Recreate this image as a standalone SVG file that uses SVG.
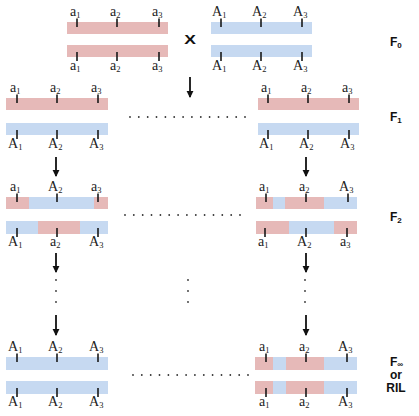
<svg xmlns="http://www.w3.org/2000/svg" width="419" height="416" viewBox="0 0 419 416">
<defs>
<style>
.p{fill:#e6b9b8}
.b{fill:#c6d9f1}
.t{stroke:#1a1a1a;stroke-width:1.6}
.l{font-family:"Liberation Serif","DejaVu Serif",serif;font-size:14px;fill:#222}
.s{font-size:8.5px}
.g{font-family:"Liberation Sans",Arial,sans-serif;font-weight:bold;font-size:12px;fill:#111}
.gs{font-size:8px}
.a{stroke:#111;stroke-width:1.8;fill:none}
.d{fill:#333}
</style>
<marker id="ah" viewBox="0 0 8 8" refX="7" refY="4" markerWidth="4" markerHeight="4" markerUnits="strokeWidth" orient="auto">
<path d="M0,0 L8,4 L0,8 Z" fill="#111"/>
</marker>
</defs>
<rect width="419" height="416" fill="#fff"/>

<!-- F0 left parent -->
<g id="f0-parent-a">
<rect class="p" x="67" y="22" width="101" height="12"/>
<rect class="p" x="67" y="45" width="101" height="12"/>
<path class="t" d="M77,18.5V27M117,18.5V27M159,18.5V27M77,52V61M117,52V61M159,52V61"/>
<text class="l" x="70" y="16">a<tspan class="s" dy="1.5">1</tspan></text>
<text class="l" x="110" y="16">a<tspan class="s" dy="1.5">2</tspan></text>
<text class="l" x="152" y="16">a<tspan class="s" dy="1.5">3</tspan></text>
<text class="l" x="70" y="70">a<tspan class="s" dy="1.5">1</tspan></text>
<text class="l" x="110" y="70">a<tspan class="s" dy="1.5">2</tspan></text>
<text class="l" x="152" y="70">a<tspan class="s" dy="1.5">3</tspan></text>
</g>

<text class="g" transform="translate(190,44) scale(1.4,1)" text-anchor="middle" style="font-size:12.5px">X</text>

<!-- F0 right parent -->
<g id="f0-parent-b">
<rect class="b" x="211" y="22" width="101" height="12"/>
<rect class="b" x="211" y="45" width="101" height="12"/>
<path class="t" d="M221,18.5V27M261,18.5V27M302,18.5V27M221,52V61M261,52V61M302,52V61"/>
<text class="l" x="212" y="16">A<tspan class="s" dy="1.5">1</tspan></text>
<text class="l" x="252" y="16">A<tspan class="s" dy="1.5">2</tspan></text>
<text class="l" x="293" y="16">A<tspan class="s" dy="1.5">3</tspan></text>
<text class="l" x="212" y="70">A<tspan class="s" dy="1.5">1</tspan></text>
<text class="l" x="252" y="70">A<tspan class="s" dy="1.5">2</tspan></text>
<text class="l" x="293" y="70">A<tspan class="s" dy="1.5">3</tspan></text>
</g>

<!-- F1 left -->
<g id="f1-left">
<rect class="p" x="6" y="98" width="102" height="12"/>
<rect class="b" x="6" y="123" width="102" height="12"/>
<path class="t" d="M17,94.5V103M57,94.5V103M98,94.5V103M17,130V139M57,130V139M98,130V139"/>
<text class="l" x="10" y="92">a<tspan class="s" dy="1.5">1</tspan></text>
<text class="l" x="50" y="92">a<tspan class="s" dy="1.5">2</tspan></text>
<text class="l" x="91" y="92">a<tspan class="s" dy="1.5">3</tspan></text>
<text class="l" x="8" y="148">A<tspan class="s" dy="1.5">1</tspan></text>
<text class="l" x="48" y="148">A<tspan class="s" dy="1.5">2</tspan></text>
<text class="l" x="89" y="148">A<tspan class="s" dy="1.5">3</tspan></text>
</g>

<!-- F1 right -->
<g id="f1-right">
<rect class="p" x="258" y="98" width="101" height="12"/>
<rect class="b" x="258" y="123" width="101" height="12"/>
<path class="t" d="M268,94.5V103M308,94.5V103M349,94.5V103M268,130V139M308,130V139M349,130V139"/>
<text class="l" x="261" y="92">a<tspan class="s" dy="1.5">1</tspan></text>
<text class="l" x="301" y="92">a<tspan class="s" dy="1.5">2</tspan></text>
<text class="l" x="342" y="92">a<tspan class="s" dy="1.5">3</tspan></text>
<text class="l" x="259" y="148">A<tspan class="s" dy="1.5">1</tspan></text>
<text class="l" x="299" y="148">A<tspan class="s" dy="1.5">2</tspan></text>
<text class="l" x="340" y="148">A<tspan class="s" dy="1.5">3</tspan></text>
</g>

<!-- F2 left -->
<g id="f2-left">
<rect class="p" x="6" y="197" width="23" height="12"/>
<rect class="b" x="29" y="197" width="65" height="12"/>
<rect class="p" x="94" y="197" width="14" height="12"/>
<rect class="b" x="6" y="221" width="32" height="13"/>
<rect class="p" x="38" y="221" width="42" height="13"/>
<rect class="b" x="80" y="221" width="28" height="13"/>
<path class="t" d="M17,193.5V202M57,193.5V202M98,193.5V202M17,228V237M57,228V237M98,228V237"/>
<text class="l" x="10" y="191">a<tspan class="s" dy="1.5">1</tspan></text>
<text class="l" x="48" y="191">A<tspan class="s" dy="1.5">2</tspan></text>
<text class="l" x="91" y="191">a<tspan class="s" dy="1.5">3</tspan></text>
<text class="l" x="8" y="246">A<tspan class="s" dy="1.5">1</tspan></text>
<text class="l" x="50" y="246">a<tspan class="s" dy="1.5">2</tspan></text>
<text class="l" x="89" y="246">A<tspan class="s" dy="1.5">3</tspan></text>
</g>

<!-- F2 right -->
<g id="f2-right">
<rect class="p" x="256" y="197" width="17" height="12"/>
<rect class="b" x="273" y="197" width="12" height="12"/>
<rect class="p" x="285" y="197" width="39" height="12"/>
<rect class="b" x="324" y="197" width="33" height="12"/>
<rect class="p" x="256" y="221" width="33" height="13"/>
<rect class="b" x="289" y="221" width="45" height="13"/>
<rect class="p" x="334" y="221" width="23" height="13"/>
<path class="t" d="M266,193.5V202M306,193.5V202M348,193.5V202M265,228V237M306,228V237M347,228V237"/>
<text class="l" x="259" y="191">a<tspan class="s" dy="1.5">1</tspan></text>
<text class="l" x="299" y="191">a<tspan class="s" dy="1.5">2</tspan></text>
<text class="l" x="339" y="191">A<tspan class="s" dy="1.5">3</tspan></text>
<text class="l" x="258" y="246">a<tspan class="s" dy="1.5">1</tspan></text>
<text class="l" x="297" y="246">A<tspan class="s" dy="1.5">2</tspan></text>
<text class="l" x="340" y="246">a<tspan class="s" dy="1.5">3</tspan></text>
</g>

<!-- Finf left -->
<g id="finf-left">
<rect class="b" x="6" y="357" width="102" height="13"/>
<rect class="b" x="6" y="381" width="102" height="13"/>
<path class="t" d="M17,353.5V362M57,353.5V362M98,353.5V362M17,388V397M57,388V397M98,388V397"/>
<text class="l" x="8" y="351">A<tspan class="s" dy="1.5">1</tspan></text>
<text class="l" x="48" y="351">A<tspan class="s" dy="1.5">2</tspan></text>
<text class="l" x="89" y="351">A<tspan class="s" dy="1.5">3</tspan></text>
<text class="l" x="8" y="406">A<tspan class="s" dy="1.5">1</tspan></text>
<text class="l" x="48" y="406">A<tspan class="s" dy="1.5">2</tspan></text>
<text class="l" x="89" y="406">A<tspan class="s" dy="1.5">3</tspan></text>
</g>

<!-- Finf right -->
<g id="finf-right">
<rect class="p" x="255" y="357" width="18" height="13"/>
<rect class="b" x="273" y="357" width="13" height="13"/>
<rect class="p" x="286" y="357" width="38" height="13"/>
<rect class="b" x="324" y="357" width="33" height="13"/>
<rect class="p" x="255" y="381" width="18" height="13"/>
<rect class="b" x="273" y="381" width="13" height="13"/>
<rect class="p" x="286" y="381" width="38" height="13"/>
<rect class="b" x="324" y="381" width="33" height="13"/>
<path class="t" d="M266,353.5V362M306,353.5V362M347,353.5V362M266,388V397M306,388V397M347,388V397"/>
<text class="l" x="259" y="351">a<tspan class="s" dy="1.5">1</tspan></text>
<text class="l" x="299" y="351">a<tspan class="s" dy="1.5">2</tspan></text>
<text class="l" x="338" y="351">A<tspan class="s" dy="1.5">3</tspan></text>
<text class="l" x="259" y="406">a<tspan class="s" dy="1.5">1</tspan></text>
<text class="l" x="299" y="406">a<tspan class="s" dy="1.5">2</tspan></text>
<text class="l" x="338" y="406">A<tspan class="s" dy="1.5">3</tspan></text>
</g>

<!-- generation labels -->
<g id="gen-labels">
<text class="g" x="390" y="46">F<tspan class="gs" dy="2">0</tspan></text>
<text class="g" x="390" y="121">F<tspan class="gs" dy="2">1</tspan></text>
<text class="g" x="390" y="221">F<tspan class="gs" dy="2">2</tspan></text>
<text class="g" x="390" y="366">F<tspan class="gs" dy="1">∞</tspan></text>
<text class="g" x="396" y="379" text-anchor="middle">or</text>
<text class="g" x="396" y="392" text-anchor="middle">RIL</text>
</g>

<!-- connectors -->
<g id="connectors">
<path class="a" marker-end="url(#ah)" d="M190,77V97"/>
<path class="a" marker-end="url(#ah)" d="M56,157V176"/>
<path class="a" marker-end="url(#ah)" d="M306,157V176"/>
<path class="a" marker-end="url(#ah)" d="M56,253V272"/>
<path class="a" marker-end="url(#ah)" d="M306,253V272"/>
<path class="a" marker-end="url(#ah)" d="M56,315V335"/>
<path class="a" marker-end="url(#ah)" d="M306,315V335"/>
</g>

<!-- ellipses -->
<g id="ellipses" class="d">
<circle cx="130" cy="117" r="0.9"/><circle cx="138.8" cy="117" r="0.9"/><circle cx="147.7" cy="117" r="0.9"/><circle cx="156.5" cy="117" r="0.9"/><circle cx="165.4" cy="117" r="0.9"/><circle cx="174.2" cy="117" r="0.9"/><circle cx="183.1" cy="117" r="0.9"/><circle cx="191.9" cy="117" r="0.9"/><circle cx="200.8" cy="117" r="0.9"/><circle cx="209.6" cy="117" r="0.9"/><circle cx="218.5" cy="117" r="0.9"/><circle cx="227.3" cy="117" r="0.9"/><circle cx="236.2" cy="117" r="0.9"/><circle cx="245" cy="117" r="0.9"/>
<circle cx="125" cy="215" r="0.9"/><circle cx="133.8" cy="215" r="0.9"/><circle cx="142.7" cy="215" r="0.9"/><circle cx="151.5" cy="215" r="0.9"/><circle cx="160.4" cy="215" r="0.9"/><circle cx="169.2" cy="215" r="0.9"/><circle cx="178.1" cy="215" r="0.9"/><circle cx="186.9" cy="215" r="0.9"/><circle cx="195.8" cy="215" r="0.9"/><circle cx="204.6" cy="215" r="0.9"/><circle cx="213.5" cy="215" r="0.9"/><circle cx="222.3" cy="215" r="0.9"/><circle cx="231.2" cy="215" r="0.9"/><circle cx="240" cy="215" r="0.9"/>
<circle cx="133" cy="375" r="0.9"/><circle cx="141.8" cy="375" r="0.9"/><circle cx="150.7" cy="375" r="0.9"/><circle cx="159.5" cy="375" r="0.9"/><circle cx="168.4" cy="375" r="0.9"/><circle cx="177.2" cy="375" r="0.9"/><circle cx="186.1" cy="375" r="0.9"/><circle cx="194.9" cy="375" r="0.9"/><circle cx="203.8" cy="375" r="0.9"/><circle cx="212.6" cy="375" r="0.9"/><circle cx="221.5" cy="375" r="0.9"/><circle cx="230.3" cy="375" r="0.9"/><circle cx="239.2" cy="375" r="0.9"/><circle cx="248" cy="375" r="0.9"/>
<circle cx="56" cy="280" r="0.9"/><circle cx="56" cy="291" r="0.9"/><circle cx="56" cy="302" r="0.9"/>
<circle cx="188" cy="280" r="0.9"/><circle cx="188" cy="291" r="0.9"/><circle cx="188" cy="302" r="0.9"/>
<circle cx="305" cy="280" r="0.9"/><circle cx="305" cy="291" r="0.9"/><circle cx="305" cy="302" r="0.9"/>
</g>
</svg>
